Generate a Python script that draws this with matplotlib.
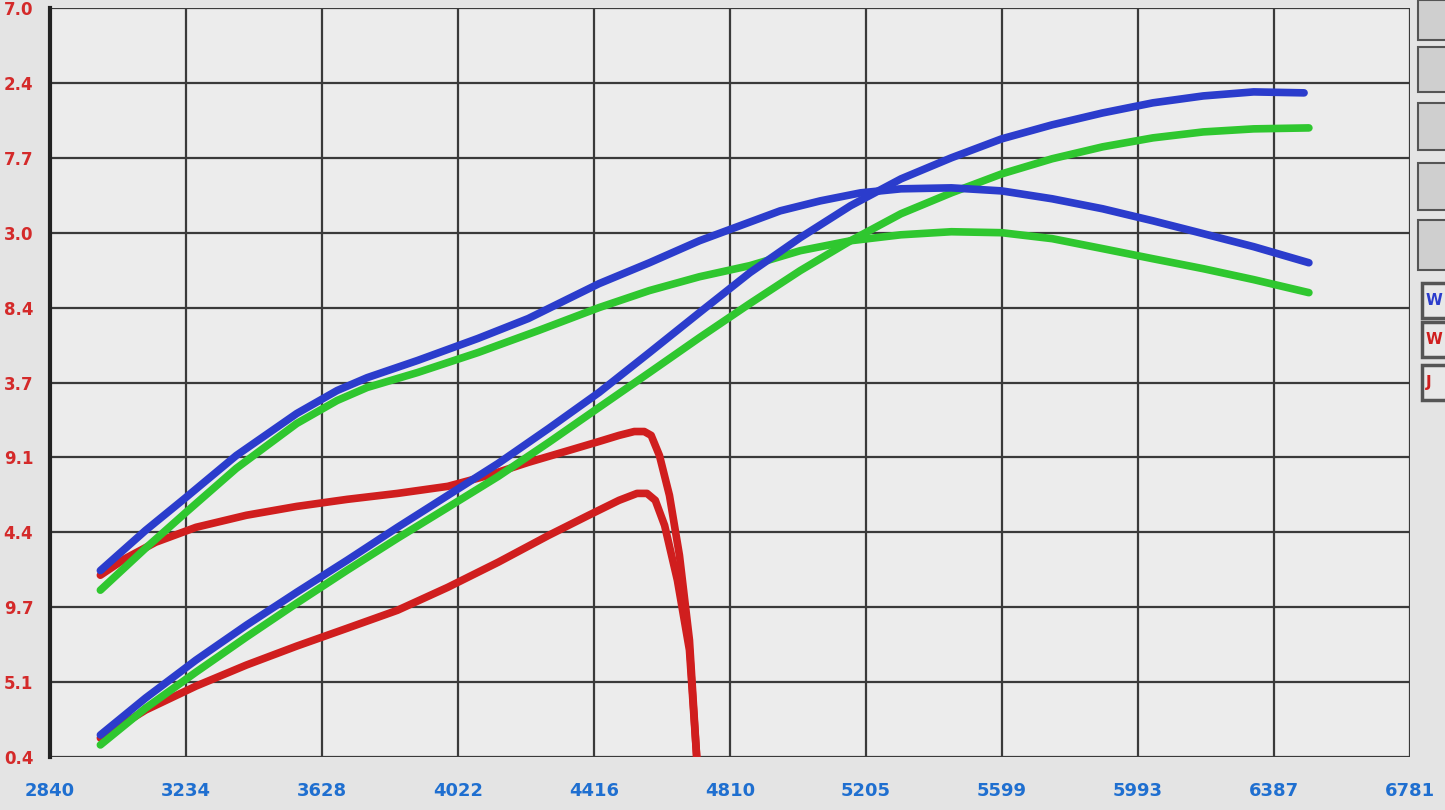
import numpy as np
import matplotlib.pyplot as plt
from matplotlib.patches import Rectangle

# Шкалы (подписи обрезаны краем экрана, как на снимке)
x_ticks = np.linspace(2840, 6781, 11)
x_labels = ['2840', '3234', '3628', '4022', '4416', '4810', '5205', '5599', '5993', '6387', '6781']
y_ticks = np.linspace(0.4, 47.0, 11)
y_labels = ['0.4', '5.1', '9.7', '4.4', '9.1', '3.7', '8.4', '3.0', '7.7', '2.4', '7.0']

# Синие кривые
blue_tq_rpm = [2986, 3117, 3234, 3380, 3555, 3672, 3759, 3905, 4080, 4226, 4343, 4431, 4577, 4722,
               4839, 4956, 5072, 5189, 5306, 5452, 5598, 5744, 5890, 6036, 6182, 6328, 6488]
blue_tq_val = [12.0, 14.5, 16.55, 19.16, 21.77, 23.2, 24.0, 25.07, 26.44, 27.68, 28.92, 29.85, 31.15, 32.52,
               33.45, 34.38, 35.0, 35.5, 35.75, 35.81, 35.62, 35.13, 34.51, 33.76, 32.96, 32.15, 31.15]
blue_pw_rpm = [2986, 3117, 3263, 3409, 3555, 3701, 3847, 3993, 4139, 4285, 4431, 4577, 4722,
               4868, 5014, 5160, 5306, 5452, 5598, 5744, 5890, 6036, 6182, 6328, 6474]
blue_pw_val = [1.77, 4.07, 6.43, 8.6, 10.65, 12.64, 14.69, 16.68, 18.67, 20.84, 23.08, 25.56, 28.05,
               30.53, 32.71, 34.7, 36.37, 37.68, 38.86, 39.73, 40.47, 41.1, 41.53, 41.78, 41.72]

# Зелёные кривые
green_tq_rpm = [2986, 3117, 3234, 3380, 3555, 3672, 3759, 3905, 4080, 4255, 4431, 4577, 4722,
                4868, 5014, 5160, 5306, 5452, 5598, 5744, 5890, 6036, 6182, 6328, 6488]
green_tq_val = [10.78, 13.39, 15.62, 18.36, 21.15, 22.58, 23.39, 24.32, 25.56, 26.93, 28.36, 29.42, 30.28,
                30.97, 31.9, 32.52, 32.89, 33.08, 33.02, 32.65, 32.03, 31.4, 30.78, 30.1, 29.29]
green_pw_rpm = [2986, 3117, 3263, 3409, 3555, 3701, 3847, 3993, 4139, 4285, 4431, 4577, 4722,
                4868, 5014, 5160, 5306, 5452, 5598, 5744, 5890, 6036, 6182, 6328, 6488]
green_pw_val = [1.15, 3.44, 5.68, 7.86, 9.97, 12.02, 14.01, 15.93, 17.86, 19.97, 22.15, 24.32, 26.49,
                28.61, 30.66, 32.52, 34.2, 35.5, 36.68, 37.62, 38.36, 38.92, 39.29, 39.48, 39.54]

# Красные кривые
red_tq_rpm = [2986, 3059, 3146, 3263, 3409, 3555, 3701, 3847, 3993, 4110, 4226, 4343, 4431, 4489,
              4533, 4562, 4582, 4606, 4635, 4664, 4693, 4714]
red_tq_val = [11.71, 12.76, 13.76, 14.69, 15.44, 15.99, 16.43, 16.8, 17.24, 17.92, 18.73, 19.47, 20.03, 20.41,
              20.65, 20.65, 20.41, 19.16, 16.68, 12.95, 7.67, 0.4]
red_pw_rpm = [2986, 3117, 3263, 3409, 3555, 3701, 3847, 3993, 4139, 4285, 4401, 4489, 4541, 4570,
              4594, 4621, 4658, 4693, 4714]
red_pw_val = [1.58, 3.32, 4.81, 6.12, 7.3, 8.41, 9.53, 10.96, 12.52, 14.19, 15.44, 16.37, 16.8, 16.8,
              16.37, 14.81, 11.4, 7.05, 0.4]

BLUE = '#2b3ccc'
GREEN = '#2fc72f'
RED = '#d01e1e'

fig = plt.figure(figsize=(14.45, 8.1), dpi=100)
fig.patch.set_facecolor('#e4e4e4')
ax = fig.add_axes([50 / 1445, 53 / 810, 1360 / 1445, 749 / 810])
ax.set_facecolor('#ececec')

kw = dict(lw=5.5, solid_capstyle='round', solid_joinstyle='round')
ax.plot(red_pw_rpm, red_pw_val, color=RED, zorder=3, **kw)
ax.plot(red_tq_rpm, red_tq_val, color=RED, zorder=3, **kw)
ax.plot(green_pw_rpm, green_pw_val, color=GREEN, zorder=4, **kw)
ax.plot(green_tq_rpm, green_tq_val, color=GREEN, zorder=4, **kw)
ax.plot(blue_pw_rpm, blue_pw_val, color=BLUE, zorder=5, **kw)
ax.plot(blue_tq_rpm, blue_tq_val, color=BLUE, zorder=5, **kw)

ax.set_xlim(2840, 6781)
ax.set_ylim(0.4, 47.0)
ax.set_xticks(x_ticks)
ax.set_xticklabels(x_labels, color='#1f6fd0', fontsize=13, fontweight='bold')
ax.set_yticks(y_ticks)
ax.set_yticklabels(y_labels, color='#d42a2a', fontsize=12, fontweight='bold')
ax.tick_params(axis='x', length=0, pad=18)
ax.tick_params(axis='y', length=0, pad=12)
ax.grid(True, color='#3a3a3a', lw=1.6)
ax.set_axisbelow(True)
for s in ['top', 'right', 'bottom']:
    ax.spines[s].set_visible(False)
ax.spines['left'].set_color('#222222')
ax.spines['left'].set_linewidth(3)

# Кнопки справа
for y0, h in [(770, 40), (718, 45), (660, 47), (600, 47), (540, 50)]:
    fig.patches.append(Rectangle((1418 / 1445, y0 / 810), 30 / 1445, h / 810,
                                 transform=fig.transFigure, facecolor='#cfcfcf',
                                 edgecolor='#555555', lw=1.5))
for y0, txt, c in [(492, 'W', BLUE), (453, 'W', RED), (410, 'J', RED)]:
    fig.patches.append(Rectangle((1422 / 1445, y0 / 810), 30 / 1445, 35 / 810,
                                 transform=fig.transFigure, facecolor='#e8e8e8',
                                 edgecolor='#555555', lw=2.5))
    fig.text(1426 / 1445, (y0 + 17) / 810, txt, color=c, fontsize=11,
             fontweight='bold', va='center')

plt.savefig('out.png', dpi=100, facecolor=fig.get_facecolor())
